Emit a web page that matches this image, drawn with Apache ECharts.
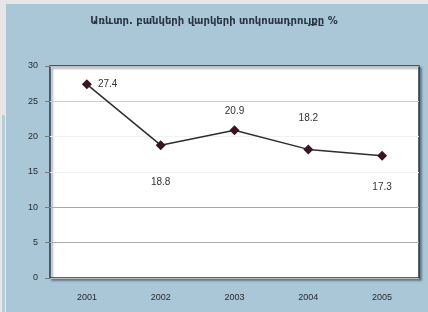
<!DOCTYPE html>
<html><head><meta charset="utf-8">
<script src="https://cdn.jsdelivr.net/npm/echarts@6/dist/echarts.min.js"></script>
<style>html,body{margin:0;padding:0;background:#a9c7d7;}#c{width:428px;height:312px;}</style>
</head><body><div id="c"></div>
<script>
const titleText = 'Առևտր. բանկերի վարկերի տոկոսադրույքը %';
const years = ['2001', '2002', '2003', '2004', '2005'];
const rates = [27.4, 18.8, 20.9, 18.2, 17.3];
const yTicks = [0, 5, 10, 15, 20, 25, 30];

const labelCfg = [
  {position: 'right', distance: 6},
  {position: 'bottom', distance: 27},
  {position: 'top', distance: 9},
  {position: 'top', distance: 21},
  {position: 'bottom', distance: 22}
];

const chart = echarts.init(document.getElementById('c'), null, {renderer: 'canvas'});
chart.setOption({
  backgroundColor: '#a9c7d7',
  animation: false,
  title: {
    text: titleText, left: 'center', top: 11,
    textStyle: {fontFamily: 'DejaVu Sans', fontSize: 10, fontWeight: 'bold', color: '#2a3440'}
  },
  graphic: [
    {type: 'rect', shape: {x: 0, y: 0, width: 428, height: 4}, style: {fill: '#e6e6e6'}},
    {type: 'rect', shape: {x: 0, y: 0, width: 6, height: 312}, style: {fill: '#e6e6e6'}},
    {type: 'rect', shape: {x: 2, y: 115, width: 3, height: 197}, style: {fill: '#b6ced9'}}
  ],
  grid: {
    left: 50, top: 66, right: 9, bottom: 34, show: true,
    backgroundColor: '#ffffff', borderColor: '#263340', borderWidth: 1.5,
    shadowColor: 'rgba(40,60,80,0.5)', shadowBlur: 2, shadowOffsetX: 2, shadowOffsetY: 2
  },
  xAxis: {
    type: 'category', data: years, boundaryGap: true,
    axisLine: {show: false}, axisTick: {show: false},
    axisLabel: {fontFamily: 'Liberation Sans', fontSize: 9, color: '#2a2a2a', margin: 15}
  },
  yAxis: {
    type: 'value', min: yTicks[0], max: yTicks[yTicks.length - 1], interval: 5,
    axisLine: {show: false},
    axisTick: {show: true, length: 5, lineStyle: {color: '#777'}},
    axisLabel: {fontFamily: 'Liberation Sans', fontSize: 9, color: '#2a2a2a', margin: 12},
    splitLine: {show: true, lineStyle: {color: ['#bbb', '#aaa', '#aaa', '#f2f2f2', '#f2f2f2', '#ccc', '#bbb'], width: 1}}
  },
  series: [{
    type: 'line',
    data: rates.map((v, i) => ({value: v, label: labelCfg[i]})),
    symbol: 'diamond', symbolSize: 10,
    itemStyle: {color: '#3b1420'},
    lineStyle: {color: '#2e2e2e', width: 1.5},
    label: {show: true, fontFamily: 'Liberation Sans', fontSize: 10, color: '#333'}
  }]
});
</script></body></html>
